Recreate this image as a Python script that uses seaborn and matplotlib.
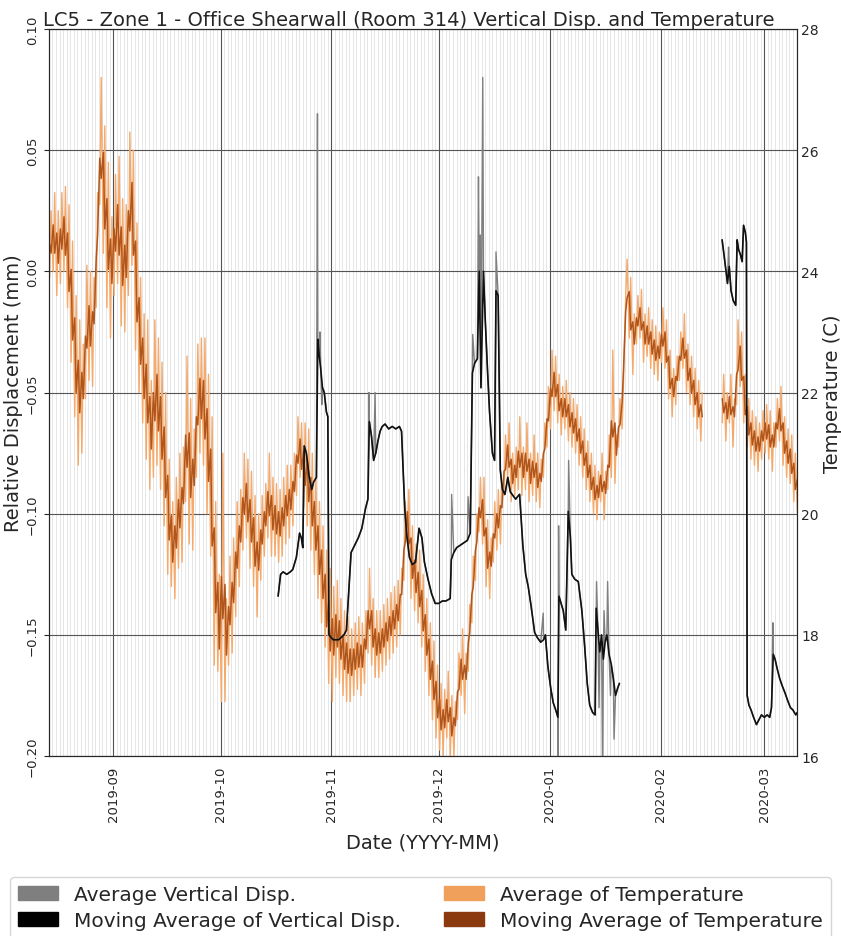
import numpy as np
import pandas as pd
import matplotlib
matplotlib.use('Agg')
import matplotlib.pyplot as plt
import matplotlib.dates as mdates
from matplotlib.patches import Patch
import seaborn as sns

sns.set_style('white')
plt.rcParams['font.family'] = ['DejaVu Sans']

# DATA
start = pd.Timestamp('2019-08-14')

# daily high / low of the temperature readings (C), one value per day from 2019-08-14
temp_hi = [
    25.0, 25.3, 25.0, 25.3, 25.4, 25.1, 24.5, 23.6, 23.2, 22.8,
    24.1, 24.0, 23.9, 25.3, 27.2, 26.4, 25.8, 24.9, 25.6, 25.9,
    25.2, 25.1, 26.3, 26.0, 24.8, 23.9, 23.3, 23.2, 22.2, 23.2,
    22.9, 22.5, 22.0, 20.9, 20.2, 20.6, 21.0, 21.1, 22.6, 21.9,
    21.4, 22.8, 22.9, 22.9, 22.3, 21.6, 20.2, 19.0, 21.0, 18.6,
    19.3, 19.6, 20.2, 20.4, 21.0, 20.9, 20.7, 20.3, 20.0, 20.3,
    20.5, 21.0, 20.6, 20.5, 20.4, 20.6, 20.8, 20.8, 21.0, 21.6,
    21.5, 21.5, 21.4, 21.0, 20.6, 20.2, 19.8, 19.4, 19.1, 18.8,
    18.9, 18.6, 18.4, 18.3, 18.1, 18.2, 18.3, 18.2, 18.4, 19.1,
    18.6, 18.4, 18.4, 18.5, 18.6, 18.7, 18.8, 18.9, 19.1, 20.2,
    20.4, 19.8, 19.5, 19.4, 19.0, 18.6, 18.2, 17.9, 17.5, 17.2,
    17.1, 17.4, 17.0, 16.9, 17.7, 18.1, 17.7, 18.5, 19.3, 20.0,
    20.6, 20.6, 19.9, 19.6, 20.2, 20.4, 20.5, 21.3, 21.5, 21.0,
    21.1, 21.6, 21.1, 21.5, 21.0, 21.3, 21.0, 20.9, 21.5, 22.1,
    22.7, 22.6, 22.3, 22.1, 22.2, 22.0, 21.9, 21.8, 21.6, 21.4,
    21.2, 21.0, 20.8, 20.7, 21.0, 20.7, 21.3, 22.7, 21.3, 21.9,
    22.2, 24.2, 23.9, 23.3, 23.6, 23.7, 23.3, 23.4, 23.2, 23.1,
    23.0, 23.4, 23.2, 22.7, 22.4, 22.6, 23.0, 23.3, 22.8, 22.6,
    22.4, 22.2, 22.0, np.nan, np.nan, np.nan, np.nan, np.nan, 22.3, 22.0,
    22.3, 21.9, 23.2, 23.0, 22.3, 21.9, 21.7, 21.6, 21.5, 21.7,
    21.8, 21.7, 21.5, 21.9, 22.1, 21.6, 21.4, 21.3, 21.0, 20.7,
]
temp_lo = [
    23.9, 24.0, 23.6, 23.8, 24.0, 23.4, 22.5, 21.6, 20.8, 21.0,
    21.9, 22.2, 22.1, 23.4, 25.1, 24.3, 23.4, 22.9, 23.6, 23.8,
    23.1, 23.0, 23.6, 24.1, 22.7, 22.0, 21.5, 20.9, 20.4, 20.6,
    20.8, 20.4, 19.8, 19.0, 18.8, 18.6, 19.1, 19.2, 20.2, 19.5,
    19.4, 20.6, 21.0, 20.8, 20.0, 19.3, 17.5, 17.4, 16.9, 16.9,
    17.5, 17.7, 18.3, 18.8, 19.4, 19.6, 19.1, 18.8, 18.3, 18.9,
    19.3, 19.6, 19.3, 19.3, 19.2, 19.3, 19.5, 19.6, 19.8, 20.3,
    20.6, 20.1, 19.8, 19.4, 19.0, 18.6, 18.2, 17.8, 17.2, 16.9,
    17.3, 17.2, 17.0, 16.9, 16.9, 17.0, 17.1, 17.0, 17.2, 17.7,
    17.5, 17.3, 17.3, 17.4, 17.5, 17.6, 17.7, 17.8, 18.0, 18.9,
    19.5, 18.6, 18.4, 18.2, 17.8, 17.4, 17.0, 16.6, 16.3, 16.1,
    16.0, 16.3, 16.0, 16.0, 16.6, 17.0, 16.7, 17.4, 18.2, 18.9,
    19.7, 19.5, 18.8, 18.6, 19.2, 19.4, 19.5, 20.3, 20.6, 20.2,
    20.3, 20.4, 20.3, 20.4, 20.2, 20.3, 20.2, 20.1, 20.6, 21.1,
    21.4, 21.7, 21.5, 21.3, 21.4, 21.2, 21.1, 21.0, 20.8, 20.6,
    20.4, 20.2, 20.0, 19.9, 20.2, 19.9, 20.4, 20.6, 20.5, 21.1,
    21.4, 23.6, 22.9, 22.3, 22.8, 22.9, 22.5, 22.6, 22.4, 22.3,
    22.2, 22.5, 22.4, 21.9, 21.6, 21.8, 22.2, 22.4, 22.0, 21.8,
    21.6, 21.4, 21.2, np.nan, np.nan, np.nan, np.nan, np.nan, 21.5, 21.2,
    21.5, 21.1, 21.8, 22.1, 21.5, 21.1, 20.9, 20.8, 20.7, 20.9,
    21.0, 20.9, 20.7, 21.1, 21.2, 20.8, 20.6, 20.5, 20.2, 20.0,
]

# moving average of vertical displacement (mm), days after 2019-08-14
disp_day = [
    64.1, 64.8, 65.5, 66.5, 67.5, 68.2, 69.2, 70.1, 70.6, 71.0,
    71.4, 72.0, 72.8, 73.5, 74.0, 74.8, 75.2, 75.6, 76.0, 76.5,
    77.0, 77.6, 78.0, 78.3, 79.5, 81.0, 82.5, 83.2, 84.0, 84.5,
    85.5, 86.5, 87.5, 88.5, 89.2, 89.6, 90.2, 90.8, 91.4, 92.0,
    92.6, 93.2, 94.0, 95.0, 96.0, 97.0, 98.0, 98.6, 99.0, 99.5,
    100.0, 100.8, 101.6, 102.5, 103.5, 104.3, 105.0, 106.0, 107.0, 108.0,
    109.0, 110.0, 111.0, 112.2, 112.5, 113.2, 114.0, 115.0, 116.0, 117.0,
    117.8, 118.4, 119.0, 119.8, 120.3, 120.8, 121.5, 122.0, 122.6, 123.2,
    124.0, 124.6, 125.0, 125.6, 126.2, 126.8, 127.5, 128.3, 129.0, 129.5,
    130.5, 131.0, 131.6, 132.5, 133.3, 134.0, 134.8, 135.8, 136.5, 137.5,
    138.3, 138.8, 139.5, 140.3, 141.0, 141.7, 142.3, 142.6, 143.2, 143.8,
    144.5, 145.2, 145.8, 146.2, 147.0, 148.0, 149.0, 149.8, 150.5, 151.2,
    152.0, 152.7, 153.0, 153.5, 154.0, 154.5, 155.0, 155.5, 156.0, 156.6,
    157.2, 157.8, 158.4, 159.0, 159.5, 170.0,
    188.2, 188.8, 189.3, 189.7, 190.2, 190.7, 191.3, 192.0, 192.4, 192.8,
    193.3, 193.8, 194.2, 194.7, 195.0, 195.2, 195.7, 196.3, 197.0, 197.8,
    198.5, 199.2, 200.0, 200.8, 201.5, 202.0, 202.5, 203.0, 203.6, 204.3,
    205.0, 205.8, 206.5, 207.3, 208.0, 208.8, 209.2,
]
disp_ma = [
    -0.134, -0.125, -0.124, -0.125, -0.124, -0.123, -0.118, -0.108, -0.110, -0.114,
    -0.072, -0.075, -0.085, -0.090, -0.087, -0.085, -0.028, -0.035, -0.040, -0.048,
    -0.050, -0.058, -0.060, -0.150, -0.152, -0.152, -0.150, -0.148, -0.128, -0.116,
    -0.113, -0.110, -0.106, -0.098, -0.094, -0.062, -0.068, -0.078, -0.075, -0.070,
    -0.066, -0.064, -0.063, -0.065, -0.064, -0.065, -0.064, -0.066, -0.080, -0.098,
    -0.108, -0.118, -0.121, -0.120, -0.106, -0.110, -0.120, -0.127, -0.133, -0.137,
    -0.137, -0.136, -0.136, -0.135, -0.119, -0.116, -0.114, -0.113, -0.112, -0.111,
    -0.108, -0.042, -0.038, -0.036, 0.000, -0.048, 0.000, -0.020, -0.040, -0.058,
    -0.075, -0.078, -0.008, -0.010, -0.082, -0.090, -0.092, -0.085, -0.091, -0.092,
    -0.094, -0.093, -0.092, -0.113, -0.125, -0.130, -0.138, -0.149, -0.151, -0.153,
    -0.152, -0.150, -0.163, -0.172, -0.178, -0.181, -0.184, -0.134, -0.137, -0.140,
    -0.148, -0.099, -0.110, -0.125, -0.127, -0.128, -0.140, -0.155, -0.170, -0.179,
    -0.182, -0.183, -0.139, -0.148, -0.157, -0.150, -0.160, -0.153, -0.150, -0.158,
    -0.162, -0.168, -0.175, -0.172, -0.170, np.nan,
    0.013, 0.006, 0.000, -0.005, 0.002, -0.008, -0.012, -0.014, 0.013, 0.009,
    0.007, 0.004, 0.019, 0.016, 0.012, -0.175, -0.179, -0.181, -0.184, -0.187,
    -0.185, -0.183, -0.184, -0.183, -0.184, -0.180, -0.158, -0.160, -0.164, -0.168,
    -0.171, -0.174, -0.177, -0.180, -0.181, -0.183, -0.182,
]

# single raw readings of the average vertical disp. that stick out of the moving average
spike_day = [75.1, 75.8, 76.3, 89.5, 91.2, 112.6, 117.2, 118.5, 120.1, 120.6,
             121.3, 125.0, 138.2, 142.4, 142.5, 145.3, 153.1, 153.8, 154.8, 155.2,
             156.2, 157.0, 158.0, 190.0, 202.4]
spike_val = [0.065, -0.025, -0.055, -0.050, -0.050, -0.092, -0.093, -0.026, 0.039, 0.015,
             0.080, 0.008, -0.141, -0.210, -0.105, -0.078, -0.128, -0.180, -0.210, -0.140,
             -0.128, -0.175, -0.193, 0.010, -0.145]


def to_frame(days, vals):
    df = pd.DataFrame({'date': start + pd.to_timedelta(days, unit='D'), 'val': vals})
    df['seg'] = df['val'].isna().cumsum()
    return df


# temperature: morning low and afternoon high of each day
t_days, t_vals = [], []
for i in range(len(temp_hi)):
    t_days += [i + 0.25, i + 0.65]
    t_vals += [temp_lo[i], temp_hi[i]]
temp_df = to_frame(t_days, t_vals)
temp_ma_df = temp_df.copy()
temp_ma_df['val'] = temp_df['val'].rolling(3, center=True, min_periods=2).mean()

disp_df = to_frame(disp_day, disp_ma)
raw = pd.DataFrame({'day': disp_day + spike_day, 'val': disp_ma + spike_val}).sort_values('day')
raw_df = to_frame(raw['day'].values, raw['val'].values)

# PLOT
fig = plt.figure(figsize=(8.41, 9.37), dpi=100)
ax = fig.add_axes([0.058, 0.192, 0.890, 0.776])
ax2 = ax.twinx()
ax.set_zorder(ax2.get_zorder() + 1)
ax.patch.set_visible(False)
ax2.patch.set_visible(True)
ax2.patch.set_facecolor('white')

sns.lineplot(data=temp_df.dropna(), x='date', y='val', units='seg', estimator=None,
             color='#f5a96b', lw=1.0, ax=ax2, legend=False)
sns.lineplot(data=temp_ma_df.dropna(), x='date', y='val', units='seg', estimator=None,
             color='#b0561c', lw=1.1, ax=ax2, legend=False)
sns.lineplot(data=raw_df.dropna(), x='date', y='val', units='seg', estimator=None,
             color='#7f7f7f', lw=1.0, ax=ax, legend=False)
sns.lineplot(data=disp_df.dropna(), x='date', y='val', units='seg', estimator=None,
             color='#111111', lw=1.2, ax=ax, legend=False)

ax.set_xlim(start, pd.Timestamp('2020-03-10 05:00'))
ax.set_ylim(-0.2, 0.1)
ax.set_yticks(np.round(np.arange(-0.2, 0.101, 0.05), 2))
ax2.set_ylim(16, 28)
ax2.set_yticks(np.arange(16, 29, 2))

ax.xaxis.set_major_locator(mdates.MonthLocator())
ax.xaxis.set_major_formatter(mdates.DateFormatter('%Y-%m'))
ax.xaxis.set_minor_locator(mdates.DayLocator())

# the twin's x axis carries the grid only (drawn under every line)
ax2.xaxis.set_visible(True)
ax2.set_xlabel('')
ax2.tick_params(axis='x', which='both', bottom=False, top=False,
                labelbottom=False, labeltop=False)
ax2.set_axisbelow(True)
ax2.grid(which='major', axis='both', color='#555555', lw=0.8)
ax2.grid(which='minor', axis='x', color='#dcdcdc', lw=0.5)

ax.tick_params(axis='x', labelrotation=90, labelsize=9.5)
ax.tick_params(axis='y', labelrotation=90, labelsize=9.5)
ax2.tick_params(axis='y', labelsize=10, length=0, pad=3)
for lab in ax.get_yticklabels():
    lab.set_verticalalignment('center')

ax.set_xlabel('Date (YYYY-MM)', fontsize=14, labelpad=8)
ax.set_ylabel('Relative Displacement (mm)', fontsize=14, labelpad=2)
ax2.set_ylabel('Temperature (C)', fontsize=14, labelpad=3)
ax.set_title('LC5 - Zone 1 - Office Shearwall (Room 314) Vertical Disp. and Temperature',
             fontsize=14, pad=2, x=0.481)

handles = [Patch(color='#7f7f7f'), Patch(color='#000000'),
           Patch(color='#f0a05a'), Patch(color='#8b3a0f')]
labels = ['Average Vertical Disp.', 'Moving Average of Vertical Disp.',
          'Average of Temperature', 'Moving Average of Temperature']
fig.legend(handles, labels, ncol=2, loc='upper center', bbox_to_anchor=(0.5, 0.074),
           fontsize=14.5, handlelength=2.0, columnspacing=2.1, labelspacing=0.35,
           frameon=True)

fig.savefig('out.png', dpi=100)
